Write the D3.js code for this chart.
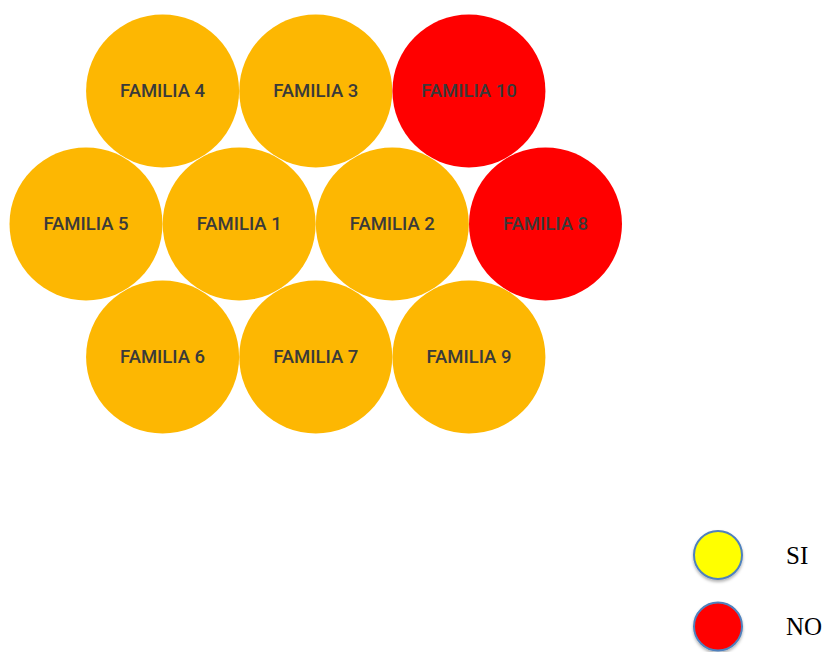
<!DOCTYPE html>
<html><head><meta charset="utf-8">
<script src="https://cdn.jsdelivr.net/npm/d3@7"></script>
<style>body{margin:0;background:#fff}svg{display:block}</style>
</head><body>
<script>
const families = ["FAMILIA 4","FAMILIA 3","FAMILIA 10","FAMILIA 5","FAMILIA 1","FAMILIA 2","FAMILIA 8","FAMILIA 6","FAMILIA 7","FAMILIA 9"];
const answers  = ["SI","SI","NO","SI","SI","SI","NO","SI","SI","SI"];
const rows     = [0,0,0,1,1,1,1,2,2,2];
const slots    = [1,3,5,0,2,4,6,1,3,5];
const legendLabels = ["SI","NO"];
const legendColors = ["#FFFF00","#FF0000"];

const W=826,H=652;
const svg=d3.select("body").append("svg").attr("width",W).attr("height",H);
const color=d3.scaleOrdinal().domain(["SI","NO"]).range(["#FDB702","#FF0000"]);
const x=d3.scaleLinear().domain([0,6]).range([86,545.5]);
const y=d3.scaleLinear().domain([0,2]).range([91,357]);
const r=76.5;
const data=families.map((f,i)=>({name:f,ans:answers[i],row:rows[i],slot:slots[i]}));
const g=svg.append("g");
g.selectAll("circle").data(data).join("circle")
 .attr("cx",d=>x(d.slot)).attr("cy",d=>y(d.row)).attr("r",r)
 .attr("fill",d=>color(d.ans));
g.selectAll("text").data(data).join("text")
 .attr("x",d=>x(d.slot)).attr("y",d=>y(d.row)).attr("dy","0.35em")
 .attr("text-anchor","middle").attr("font-family","Roboto, sans-serif")
 .attr("font-weight",500).attr("font-size",18.5).attr("fill","#3a3a3a").text(d=>d.name);

const ly=d3.scalePoint().domain(legendLabels).range([555,626.5]);
const defs=svg.append("defs");
const f=defs.append("filter").attr("id","sh").attr("x","-30%").attr("y","-30%").attr("width","160%").attr("height","170%");
f.append("feDropShadow").attr("dx",0).attr("dy",2).attr("stdDeviation",1.5).attr("flood-color","#000").attr("flood-opacity",0.3);
const lg=svg.append("g");
lg.selectAll("circle").data(legendLabels).join("circle")
 .attr("cx",718).attr("cy",d=>ly(d)).attr("r",24)
 .attr("fill",(d,i)=>legendColors[i]).attr("stroke","#4F81BD").attr("stroke-width",2)
 .attr("filter","url(#sh)");
lg.selectAll("text").data(legendLabels).join("text")
 .attr("x",786).attr("y",d=>ly(d)).attr("dy","0.35em")
 .attr("font-family","Liberation Serif, DejaVu Serif, serif").attr("font-size",25)
 .attr("fill","#000").text(d=>d);
</script>
</body></html>
